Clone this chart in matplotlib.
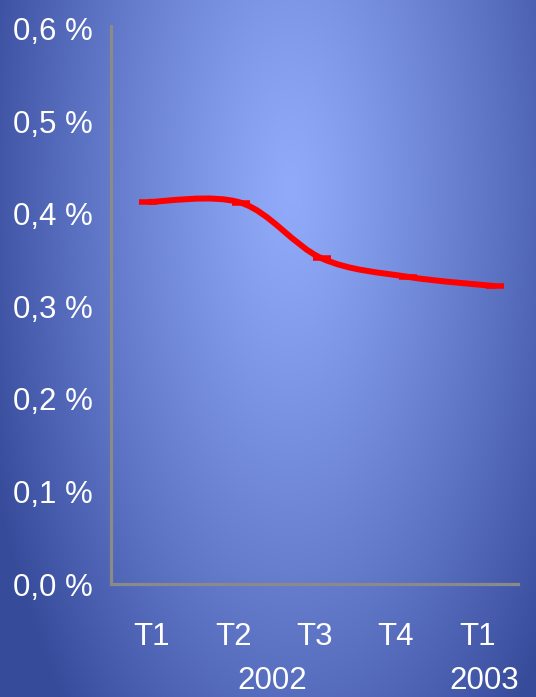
import numpy as np
import matplotlib.pyplot as plt
from matplotlib.path import Path
from matplotlib.patches import PathPatch
from matplotlib import transforms

plt.rcParams['font.family'] = ['Liberation Sans', 'DejaVu Sans']

# data
quarters = ['T1', 'T2', 'T3', 'T4', 'T1']
years = ['2002', '2003']
year_pos = [1.48, 4.08]
line_pos = [-0.05, 1.10, 2.09, 3.15, 4.22]
rate = [0.413, 0.412, 0.352, 0.332, 0.322]
y_ticks = [0.0, 0.1, 0.2, 0.3, 0.4, 0.5, 0.6]

W, H = 536, 697
fig = plt.figure(figsize=(W / 100, H / 100), dpi=100)

# radial blue gradient background
bg = fig.add_axes([0, 0, 1, 1], zorder=-1)
yy, xx = np.mgrid[0:H, 0:W]
r = np.sqrt(((xx - 290) / 324.0) ** 2 + ((yy - 190) / 725.0) ** 2)
t = (np.clip(r, 0, 1) ** 1.2)[..., None]
c0 = np.array([145, 170, 250]) / 255.0
c1 = np.array([55, 75, 155]) / 255.0
bg.imshow(c0 * (1 - t) + c1 * t, aspect='auto', extent=[0, W, H, 0])
bg.axis('off')

ax = fig.add_axes([111 / W, 1 - 584 / H, (518 - 111) / W, (584 - 26) / H])
ax.set_facecolor('none')
ax.set_xlim(-0.5, 4.5)
ax.set_ylim(0, 0.6032)

# smoothed line (Catmull-Rom as cubic Bezier)
pts = np.column_stack([line_pos, rate])
verts = [pts[0]]
codes = [Path.MOVETO]
n = len(pts)
for i in range(n - 1):
    p0 = pts[max(i - 1, 0)]
    p1 = pts[i]
    p2 = pts[i + 1]
    p3 = pts[min(i + 2, n - 1)]
    verts += [p1 + (p2 - p0) / 6, p2 - (p3 - p1) / 6, p2]
    codes += [Path.CURVE4] * 3
ax.add_patch(PathPatch(Path(verts, codes), fill=False, edgecolor='#ff0000',
                       linewidth=4.3, capstyle='butt', zorder=3))
ax.plot(line_pos, rate, linestyle='none', marker='_', markersize=13,
        markeredgewidth=4, color='#ff0000', zorder=4)

for s in ['top', 'right']:
    ax.spines[s].set_visible(False)
for s in ['left', 'bottom']:
    ax.spines[s].set_color('#8a8a8a')
    ax.spines[s].set_linewidth(2.3)

ax.set_yticks(y_ticks)
ax.set_yticklabels([('%.1f %%' % v).replace('.', ',') for v in y_ticks])
ax.set_xticks(range(len(quarters)))
ax.set_xticklabels(quarters)
ax.tick_params(axis='y', length=0, pad=13, labelsize=22.5, labelcolor='white')
ax.tick_params(axis='x', length=0, pad=44, labelsize=22.5, labelcolor='white')
for lab in ax.get_xticklabels():
    lab.set_va('baseline')

trans = transforms.blended_transform_factory(ax.transData, fig.transFigure)
for yr, xp in zip(years, year_pos):
    ax.text(xp, 1.0 / H, yr, transform=trans, ha='center', va='bottom',
            fontsize=22.5, color='white', clip_on=False)

fig.savefig('out.png', dpi=100)
